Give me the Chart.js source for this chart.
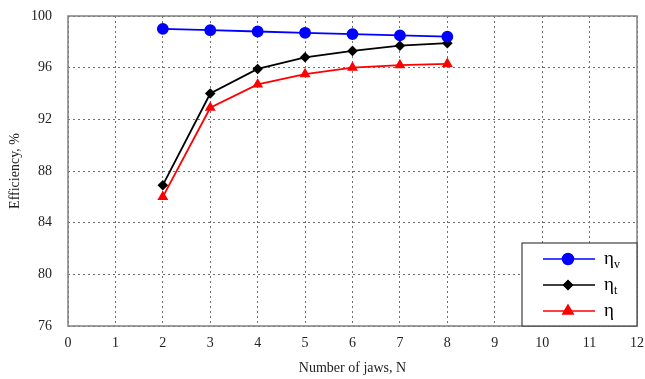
<!DOCTYPE html>
<html>
<head>
<meta charset="utf-8">
<script src="https://cdn.jsdelivr.net/npm/chart.js@4"></script>
<style>
  html, body { margin: 0; padding: 0; background: #fff; }
  #wrap { width: 645px; height: 379px; }
</style>
</head>
<body>
<div id="wrap"><canvas id="effChart" width="645" height="379"></canvas></div>
<script>
// Data
const jaws = [2, 3, 4, 5, 6, 7, 8];
const etaV = [99.0, 98.9, 98.8, 98.7, 98.6, 98.5, 98.4];
const etaT = [86.9, 94.0, 95.9, 96.8, 97.3, 97.7, 97.9];
const eta  = [86.0, 92.9, 94.7, 95.5, 96.0, 96.2, 96.3];
const yTicks = [76, 80, 84, 88, 92, 96, 100];

const serif = '"Liberation Serif", "DejaVu Serif", serif';

const toPoints = (vals) => vals.map((v, i) => ({ x: jaws[i], y: v }));

// legend entries (label, subscript)
const legendItems = [
    { color: '#0000ff', style: 'circle', radius: 5.5, label: 'η', sub: 'v' },
    { color: '#000000', style: 'rectRot', radius: 4.5, label: 'η', sub: 't' },
    { color: '#ff0000', style: 'triangle', radius: 6, label: 'η', sub: '' }
];

// frame round the plot area + custom legend box
const framePlugin = {
    id: 'frame',
    afterDatasetsDraw(chart) {
        const ctx = chart.ctx;
        const a = chart.chartArea;
        ctx.save();
        ctx.strokeStyle = '#808080';
        ctx.lineWidth = 1.5;
        ctx.setLineDash([]);
        ctx.strokeRect(a.left, a.top, a.right - a.left, a.bottom - a.top);

        // legend box
        const bx = 522, by = 243, bw = a.right - 522, bh = a.bottom - 243;
        ctx.fillStyle = '#fff';
        ctx.fillRect(bx, by, bw, bh);
        ctx.strokeStyle = '#404040';
        ctx.lineWidth = 1.2;
        ctx.strokeRect(bx, by, bw, bh);

        legendItems.forEach((item, i) => {
            const y = by + 16 + i * 26;
            ctx.strokeStyle = item.color;
            ctx.lineWidth = 1.5;
            ctx.beginPath();
            ctx.moveTo(543, y);
            ctx.lineTo(595, y);
            ctx.stroke();
            ctx.fillStyle = item.color;
            ctx.strokeStyle = item.color;
            Chart.helpers.drawPoint(ctx, {
                pointStyle: item.style, radius: item.radius, borderWidth: 1
            }, 568, y);
            ctx.fill();

            ctx.fillStyle = '#000';
            ctx.textBaseline = 'middle';
            ctx.textAlign = 'left';
            ctx.font = '19px ' + serif;
            ctx.fillText(item.label, 604, y);
            if (item.sub) {
                ctx.font = '12px ' + serif;
                ctx.fillText(item.sub, 614, y + 6);
            }
        });
        ctx.restore();
    }
};

const ctx = document.getElementById('effChart').getContext('2d');
new Chart(ctx, {
    type: 'line',
    data: {
        datasets: [
            {
                label: 'ηv',
                data: toPoints(etaV),
                borderColor: '#0000ff',
                backgroundColor: '#0000ff',
                pointStyle: 'circle',
                pointRadius: 5,
                borderWidth: 1.8
            },
            {
                label: 'ηt',
                data: toPoints(etaT),
                borderColor: '#000000',
                backgroundColor: '#000000',
                pointStyle: 'rectRot',
                pointRadius: 4,
                borderWidth: 1.8
            },
            {
                label: 'η',
                data: toPoints(eta),
                borderColor: '#ff0000',
                backgroundColor: '#ff0000',
                pointStyle: 'triangle',
                pointRadius: 4.5,
                borderWidth: 1.8
            }
        ]
    },
    options: {
        responsive: false,
        animation: false,
        layout: { padding: { top: 16, right: 8, left: 0, bottom: 0 } },
        plugins: {
            legend: { display: false },
            tooltip: { enabled: false }
        },
        scales: {
            x: {
                type: 'linear',
                min: 0,
                max: 12,
                afterFit: (s) => {
                    s.height = 53;
                    s.paddingLeft = 0;
                    s.paddingRight = 0;
                },
                ticks: {
                    stepSize: 1,
                    color: '#222',
                    font: { family: serif, size: 14 },
                    padding: 9
                },
                grid: {
                    color: '#707070',
                    lineWidth: 1,
                    drawTicks: false,
                    tickLength: 0
                },
                border: { display: false, dash: [2, 3] },
                title: {
                    display: true,
                    text: 'Number of jaws, N',
                    color: '#222',
                    font: { family: serif, size: 14 },
                    padding: { top: 7, bottom: 2 }
                }
            },
            y: {
                min: 76,
                max: 100,
                afterFit: (s) => {
                    s.width = 68;
                    s.paddingTop = 0;
                    s.paddingBottom = 0;
                },
                afterBuildTicks: (s) => { s.ticks = yTicks.map(v => ({ value: v })); },
                ticks: {
                    color: '#222',
                    font: { family: serif, size: 14 },
                    padding: 16
                },
                grid: {
                    color: '#707070',
                    lineWidth: 1,
                    drawTicks: false,
                    tickLength: 0
                },
                border: { display: false, dash: [2, 3] },
                title: {
                    display: true,
                    text: 'Efficiency, %',
                    color: '#222',
                    font: { family: serif, size: 14 },
                    padding: { top: 7, bottom: 0 }
                }
            }
        }
    },
    plugins: [framePlugin]
});
</script>
</body>
</html>
